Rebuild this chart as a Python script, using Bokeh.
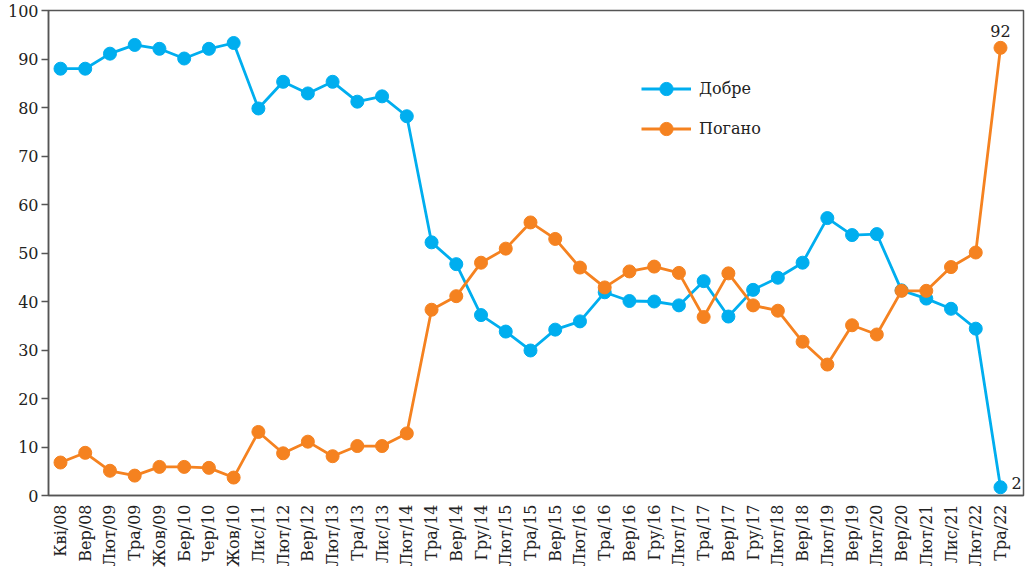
import math
from bokeh.plotting import figure
from bokeh.models import Range1d, FixedTicker, Legend, LegendItem, Label
from bokeh.embed import file_html
from bokeh.resources import INLINE

categories = ["Кві/08", "Вер/08", "Лют/09", "Тра/09", "Жов/09", "Бер/10", "Чер/10", "Жов/10",
              "Лис/11", "Лют/12", "Вер/12", "Лют/13", "Тра/13", "Лис/13", "Лют/14", "Тра/14",
              "Вер/14", "Гру/14", "Лют/15", "Тра/15", "Вер/15", "Лют/16", "Тра/16", "Вер/16",
              "Гру/16", "Лют/17", "Тра/17", "Вер/17", "Гру/17", "Лют/18", "Вер/18", "Лют/19",
              "Вер/19", "Лют/20", "Вер/20", "Лют/21", "Лис/21", "Лют/22", "Тра/22"]

dobre = [88.0, 88.0, 91.1, 92.9, 92.1, 90.1, 92.1, 93.3,
         79.8, 85.3, 82.9, 85.3, 81.2, 82.3, 78.2, 52.2,
         47.7, 37.2, 33.8, 29.9, 34.2, 35.9, 41.9, 40.1,
         40.0, 39.2, 44.2, 36.9, 42.4, 44.9, 48.0, 57.2,
         53.7, 53.9, 42.3, 40.6, 38.5, 34.4, 1.7]

pohano = [6.8, 8.8, 5.1, 4.1, 5.9, 5.9, 5.7, 3.7,
          13.1, 8.7, 11.1, 8.1, 10.2, 10.2, 12.8, 38.3,
          41.1, 48.0, 50.9, 56.3, 52.9, 47.0, 42.9, 46.2,
          47.2, 45.9, 36.8, 45.8, 39.2, 38.1, 31.7, 27.0,
          35.1, 33.2, 42.2, 42.2, 47.1, 50.1, 92.3]

series_names = ["Добре", "Погано"]
y_ticks = [0, 10, 20, 30, 40, 50, 60, 70, 80, 90, 100]

BLUE = "#00AEEF"
ORANGE = "#F58220"
FONT = "DejaVu Serif"
FS = "16px"
TXT = "#222222"
AX = "#555555"

x = list(range(len(categories)))

p = figure(frame_width=975, frame_height=485,
           x_range=Range1d(-0.485, len(categories) - 1 + 0.93),
           y_range=Range1d(0, 100),
           output_backend="svg", toolbar_location=None,
           min_border_left=48, min_border_top=10, min_border_right=4, min_border_bottom=0)

p.xgrid.visible = False
p.ygrid.visible = False
p.outline_line_color = AX
p.outline_line_width = 1.5
p.background_fill_color = "white"
p.border_fill_color = "white"

r1l = p.line(x, dobre, line_color=BLUE, line_width=2.8)
r1s = p.scatter(x, dobre, size=13, fill_color=BLUE, line_color=BLUE)
r2l = p.line(x, pohano, line_color=ORANGE, line_width=2.8)
r2s = p.scatter(x, pohano, size=13, fill_color=ORANGE, line_color=ORANGE)

# axes
p.xaxis.ticker = FixedTicker(ticks=x)
p.xaxis.major_label_overrides = {i: c for i, c in enumerate(categories)}
p.xaxis.major_label_orientation = math.pi / 2
p.xaxis.major_tick_out = 0
p.xaxis.major_tick_in = 0
p.xaxis.minor_tick_out = 0
p.xaxis.minor_tick_in = 0
p.xaxis.major_label_standoff = 9

p.yaxis.ticker = FixedTicker(ticks=y_ticks)
p.yaxis.major_tick_out = 7
p.yaxis.major_tick_in = 0
p.yaxis.minor_tick_out = 0
p.yaxis.minor_tick_in = 0
p.yaxis.major_label_standoff = 3

for ax in (p.xaxis[0], p.yaxis[0]):
    ax.axis_line_color = AX
    ax.axis_line_width = 1.5
    ax.major_tick_line_color = AX
    ax.major_tick_line_width = 1.5
    ax.major_label_text_font = FONT
    ax.major_label_text_font_size = FS
    ax.major_label_text_color = TXT

# end-point labels
p.add_layout(Label(x=x[-1], y=pohano[-1], text=f"{pohano[-1]:.0f}", y_offset=17,
                   text_align="center", text_baseline="middle", text_font=FONT,
                   text_font_size=FS, text_color=TXT))
p.add_layout(Label(x=x[-1], y=dobre[-1], text=f"{dobre[-1]:.0f}", x_offset=11, y_offset=4,
                   text_align="left", text_baseline="middle", text_font=FONT,
                   text_font_size=FS, text_color=TXT))

legend = Legend(items=[LegendItem(label=series_names[0], renderers=[r1l, r1s]),
                       LegendItem(label=series_names[1], renderers=[r2l, r2s])],
                location=(593, 350), orientation="vertical",
                glyph_width=50, glyph_height=33, label_height=20, spacing=7,
                padding=0, margin=0, label_standoff=8,
                label_text_font=FONT, label_text_font_size=FS, label_text_color=TXT,
                border_line_color=None, background_fill_alpha=0)
p.add_layout(legend)

open("out.html", "w").write(file_html(p, INLINE))
